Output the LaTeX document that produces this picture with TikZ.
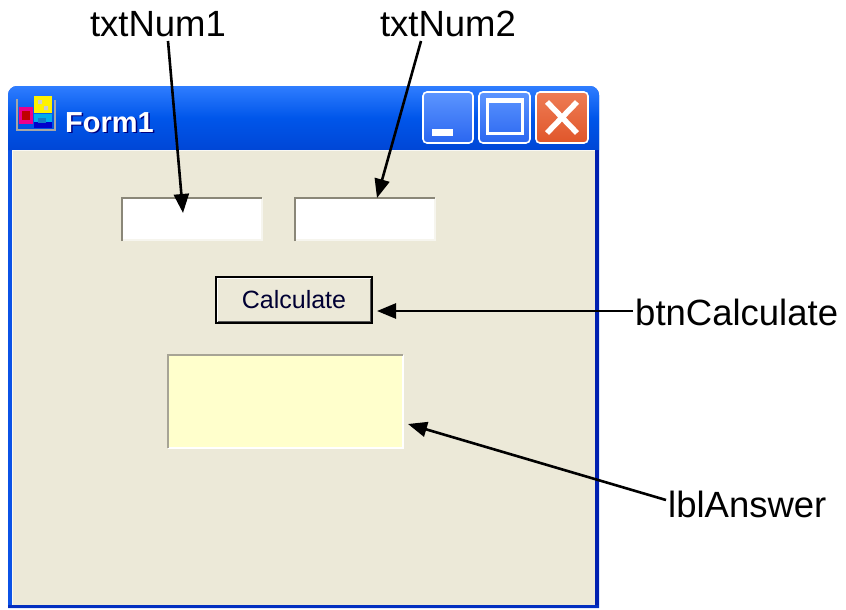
\documentclass[tikz,border=0pt]{standalone}
\usepackage{fontspec}
\setmainfont{Liberation Sans}
\usetikzlibrary{arrows.meta}
\definecolor{winblue}{HTML}{0B52E6}
\definecolor{windark}{HTML}{0020B0}
\definecolor{ttop}{HTML}{2F7DFF}
\definecolor{tmid}{HTML}{0056EA}
\definecolor{tbot}{HTML}{0046D6}
\definecolor{face}{HTML}{ECE9D8}
\definecolor{bevdark}{HTML}{8A8778}
\definecolor{bevlight}{HTML}{F6F5EE}
\definecolor{lblyellow}{HTML}{FFFFCC}
\definecolor{btnblue}{HTML}{2A66F0}
\definecolor{btnbluel}{HTML}{5C95FF}
\definecolor{closered}{HTML}{E0562A}
\definecolor{closeredl}{HTML}{EE7C55}
\tikzset{
  lab/.style={font=\fontsize{36.5}{40}\selectfont, inner sep=0pt, text=black},
  arr/.style={line width=2.6pt, -{Triangle[length=19pt,width=15pt]}},
  tbox/.style={fill=white, inner sep=0pt},
  capbtn/.style={rounded corners=4pt, draw=white, line width=1.6pt},
}
\begin{document}
\begin{tikzpicture}[x=1pt,y=-1pt]
\useasboundingbox[fill=white] (0,0) rectangle (846,610);
% window frame
\fill[winblue] (8,608) -- (8,100) [rounded corners=9pt] -- (8,86) -- (599,86) [sharp corners] -- (599,608) -- cycle;
\fill[windark] (595,150) rectangle (599,608);
\fill[windark!70!winblue] (8,605) rectangle (599,608);
% title bar
\shade[top color=ttop, bottom color=tbot, middle color=tmid] (8,100) [rounded corners=9pt] -- (8,86) -- (599,86) [sharp corners] -- (599,100) -- (599,150) -- (8,150) -- cycle;
% client area
\fill[face] (12,150) rectangle (595,605);
\draw[white!70!face, line width=1pt] (12.5,605) -- (12.5,150.5) -- (594.5,150.5);
% icon
\draw[gray!70, line width=1.2pt] (17,99) -- (17,130) -- (55,130) -- (55,100);
\fill[magenta] (19,107) rectangle (33,124);
\fill[red!75!black] (22,111) rectangle (30,120);
\fill[yellow] (34,96) rectangle (52,113);
\fill[gray!40] (38,100) rectangle (42,104) (44,106) rectangle (48,110);
\fill[cyan] (34,114) rectangle (52,128);
\fill[blue!80!black] (34,122) rectangle (52,128);
\fill[cyan!60!blue] (38,118) rectangle (46,123);
% title text
\node[font=\bfseries\fontsize{29}{32}\selectfont, text=blue!50!black, anchor=base west, inner sep=0pt] at (66.5,133.5) {Form1};
\node[font=\bfseries\fontsize{29}{32}\selectfont, text=white, anchor=base west, inner sep=0pt] (title) at (65,132) {Form1};
% caption buttons
\shade[capbtn, top color=btnbluel, bottom color=btnblue] (423,92) rectangle (473,143);
\fill[white] (432,129) rectangle (453,136);
\shade[capbtn, top color=btnbluel, bottom color=btnblue] (479,92) rectangle (530,143);
\draw[white, line width=3pt] (487.5,101) rectangle (522.5,133);
\fill[white] (486,98) rectangle (524,103);
\shade[capbtn, top color=closeredl, bottom color=closered] (536,92) rectangle (588,143);
\draw[white, line width=5.5pt] (547,102) -- (577,133) (577,102) -- (547,133);
% text boxes
\node[tbox, minimum width=140pt, minimum height=42pt] (txt1) at (192,219) {};
\node[tbox, minimum width=140pt, minimum height=42pt] (txt2) at (365,219) {};
\foreach \b in {txt1,txt2}{
  \draw[bevlight, line width=2pt] (\b.south west) -- (\b.south east) -- (\b.north east);
  \draw[bevdark, line width=2.5pt] ([yshift=-1pt]\b.south west) -- (\b.north west) -- (\b.north east);
}
% button
\node[draw=black, line width=1.6pt, fill=face, minimum width=156pt, minimum height=46pt, inner sep=0pt,
      font=\fontsize{25}{28}\selectfont, text=black!80!blue] (btn) at (294,300) {Calculate};
\draw[white, line width=1pt] ([shift={(2,-2)}]btn.south west) -- ([shift={(2,2)}]btn.north west) -- ([shift={(-2,2)}]btn.north east);
\draw[gray!70!black, line width=1.5pt] ([shift={(2.5,-2.5)}]btn.south west) -- ([shift={(-2.5,-2.5)}]btn.south east) -- ([shift={(-2.5,2.5)}]btn.north east);
% answer label
\node[fill=lblyellow, minimum width=235pt, minimum height=93pt, inner sep=0pt] (ans) at (285.5,401.5) {};
\draw[white, line width=1.5pt] (ans.south west) -- (ans.south east) -- (ans.north east);
\draw[bevdark!70!face, line width=2pt] (ans.south west) -- (ans.north west) -- (ans.north east);
% callout labels
\node[lab, anchor=base] (l1) at (158,37) {txtNum1};
\node[lab, anchor=base] (l2) at (448,37) {txtNum2};
\node[lab, anchor=base west] (l3) at (635,325) {btnCalculate};
\node[lab, anchor=base west] (l4) at (668,517) {lblAnswer};
% arrow end points
\coordinate (s1) at (168,41);
\coordinate (e1) at (183,213);
\coordinate (s2) at (421,41);
\coordinate (e2) at (377,198);
\coordinate (s3) at (633,311);
\coordinate (e3) at (377,311);
\coordinate (s4) at (666,500);
\coordinate (e4) at (408,424);
\draw[arr] (s1) -- (e1);
\draw[arr] (s2) -- (e2);
\draw[arr] (s3) -- (e3);
\draw[arr] (s4) -- (e4);
\end{tikzpicture}
\end{document}
